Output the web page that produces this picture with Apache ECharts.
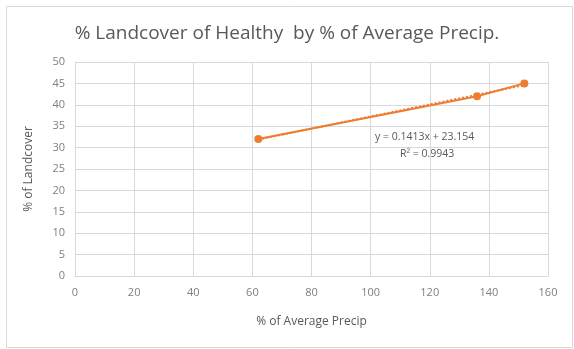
<!DOCTYPE html>
<html><head><meta charset="utf-8">
<script src="https://cdn.jsdelivr.net/npm/echarts@6/dist/echarts.min.js"></script>
<style>html,body{margin:0;padding:0;background:#fff}#c{width:574px;height:349px}</style>
</head><body><div id="c"></div>
<script>
const titleText = "% Landcover of Healthy  by % of Average Precip.";
const xName = "% of Average Precip";
const yName = "% of Landcover";
const precip = [62, 136, 152];
const landcover = [32, 42, 45];
const trendX = [62, 152];
const trendY = [31.9, 44.6];
const eqLines = ["y = 0.1413x + 23.154", "R² = 0.9943"];

const chart = echarts.init(document.getElementById('c'), null, {renderer:'canvas'});
const font = "'Open Sans', 'Liberation Sans', sans-serif";
chart.setOption({
  animation:false,
  backgroundColor:'#fff',
  title:{text:titleText,left:'center',top:19,textStyle:{fontFamily:font,fontSize:19,fontWeight:'normal',color:'#595959'}},
  grid:{left:75,right:26,top:62,bottom:73},
  xAxis:{type:'value',min:0,max:160,interval:20,name:xName,nameLocation:'middle',nameGap:40,
    nameTextStyle:{fontFamily:font,fontSize:12,color:'#595959'},
    axisLine:{show:true,lineStyle:{color:'#d9d9d9'}},axisTick:{show:false},
    axisLabel:{fontFamily:font,fontSize:11,color:'#7f7f7f',margin:11},
    splitLine:{show:true,lineStyle:{color:'#d9d9d9'}}},
  yAxis:{type:'value',min:0,max:50,interval:5,name:yName,nameLocation:'middle',nameGap:40,
    nameTextStyle:{fontFamily:font,fontSize:12,color:'#595959'},
    axisLine:{show:true,lineStyle:{color:'#d9d9d9'}},axisTick:{show:false},
    axisLabel:{fontFamily:font,fontSize:11,color:'#7f7f7f',margin:10},
    splitLine:{show:true,lineStyle:{color:'#d9d9d9'}}},
  graphic:[
    {type:'rect',left:4,top:4,shape:{width:566,height:341},style:{fill:'none',stroke:'#d9d9d9',lineWidth:1},silent:true,z:-1},
    {type:'text',left:375,top:132,style:{text:eqLines[0],fontFamily:font,fontSize:10.5,fill:'#595959'}},
    {type:'text',left:400,top:149,style:{text:eqLines[1],fontFamily:font,fontSize:10.5,fill:'#595959'}}
  ],
  series:[
    {type:'line',data:precip.map((x,i)=>[x,landcover[i]]),symbol:'circle',symbolSize:8,
      lineStyle:{color:'#ED7D31',width:2},itemStyle:{color:'#ED7D31'},z:3},
    {type:'line',data:trendX.map((x,i)=>[x,trendY[i]]),symbol:'none',
      lineStyle:{color:'#ED7D31',width:2,type:'dotted'},z:2}
  ]
});
</script></body></html>
